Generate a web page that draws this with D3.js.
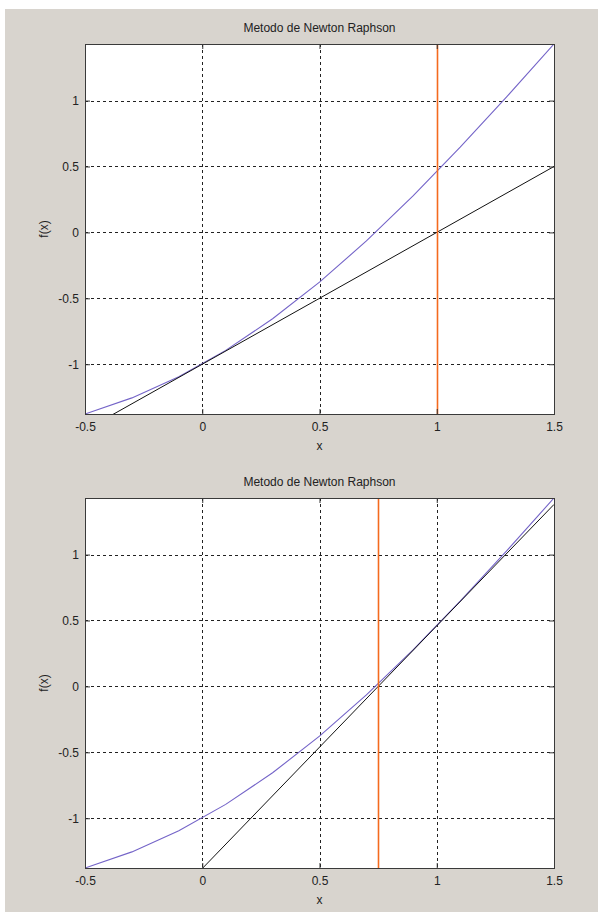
<!DOCTYPE html>
<html>
<head>
<meta charset="utf-8">
<script src="https://cdn.jsdelivr.net/npm/d3@7"></script>
<style>
  body { margin: 0; background: #fff; }
  text { font-family: "Liberation Sans", Arial, sans-serif; fill: #222; }
</style>
</head>
<body>
<script>
// datos
var titles = ["Metodo de Newton Raphson", "Metodo de Newton Raphson"];
var xTicks = [-0.5, 0, 0.5, 1, 1.5];
var xTickLabels = ["-0.5", "0", "0.5", "1", "1.5"];
var yTicks = [-1, -0.5, 0, 0.5, 1];
var yTickLabels = ["-1", "-0.5", "0", "0.5", "1"];

// f(x) muestreada
var curveX = [-0.5, -0.3, -0.1, 0.1, 0.3, 0.5, 0.7, 0.9, 1.1, 1.3, 1.5];
var curveY = [-1.3776, -1.2553, -1.0950, -0.8950, -0.6553, -0.3776, -0.0648, 0.2784, 0.6464, 1.0325, 1.4293];

// rectas tangentes (extremos en x = -0.5 y x = 1.5)
var tangentX = [-0.5, 1.5];
var tangentY = [[-1.5, 0.5], [-2.3025, 1.3804]];

// siguiente aproximacion (linea vertical)
var nextRoot = [1, 0.7504];

var W = 603, H = 913;
var left = 85, right = 554;
var panelTop = [44, 498];
var panelH = 370;

var svg = d3.select("body").append("svg")
    .attr("width", W)
    .attr("height", H);

// fondo gris de la figura
svg.append("rect")
    .attr("x", 5).attr("y", 9)
    .attr("width", 593).attr("height", 903)
    .attr("fill", "#d8d4ce");

var x = d3.scaleLinear().domain([-0.5, 1.5]).range([left, right]);

function drawPanel(p) {
    var top = panelTop[p];
    var bottom = top + panelH;
    var y = d3.scaleLinear().domain(d3.extent(curveY)).range([bottom, top]);

    var g = svg.append("g");

    g.append("rect")
        .attr("x", left).attr("y", top)
        .attr("width", right - left).attr("height", panelH)
        .attr("fill", "#fff");

    svg.append("clipPath").attr("id", "clip" + p)
        .append("rect")
        .attr("x", left).attr("y", top)
        .attr("width", right - left).attr("height", panelH);

    //rejilla punteada
    g.selectAll(".gx").data(xTicks.slice(1, -1)).enter().append("line")
        .attr("x1", function (d) { return Math.round(x(d)) + 0.5; })
        .attr("x2", function (d) { return Math.round(x(d)) + 0.5; })
        .attr("y1", top).attr("y2", bottom)
        .attr("stroke", "#222").attr("stroke-dasharray", "3,3");
    g.selectAll(".gy").data(yTicks).enter().append("line")
        .attr("y1", function (d) { return Math.round(y(d)) + 0.5; })
        .attr("y2", function (d) { return Math.round(y(d)) + 0.5; })
        .attr("x1", left).attr("x2", right)
        .attr("stroke", "#222").attr("stroke-dasharray", "3,3");

    var plot = g.append("g").attr("clip-path", "url(#clip" + p + ")");

    var line = d3.line()
        .x(function (d) { return x(d[0]); })
        .y(function (d) { return y(d[1]); });

    plot.append("path")
        .attr("d", line(d3.zip(curveX, curveY)))
        .attr("fill", "none").attr("stroke", "#7464c8").attr("stroke-width", 1.1);

    plot.append("path")
        .attr("d", line(d3.zip(tangentX, tangentY[p])))
        .attr("fill", "none").attr("stroke", "#111").attr("stroke-width", 1);

    var rx = Math.round(x(nextRoot[p])) + 0.5;
    plot.append("line")
        .attr("x1", rx).attr("x2", rx)
        .attr("y1", top).attr("y2", bottom)
        .attr("stroke", "#f46a1e").attr("stroke-width", 1.6);

    // ejes con marcas hacia dentro
    var xAxis = d3.axisBottom(x).tickValues(xTicks)
        .tickFormat(function (d, i) { return xTickLabels[i]; })
        .tickSizeInner(-5).tickSizeOuter(0).tickPadding(8);
    var yAxis = d3.axisLeft(y).tickValues(yTicks)
        .tickFormat(function (d, i) { return yTickLabels[i]; })
        .tickSizeInner(-5).tickSizeOuter(0).tickPadding(6);

    var ax = g.append("g").attr("transform", "translate(0," + bottom + ")").call(xAxis);
    var ay = g.append("g").attr("transform", "translate(" + left + ",0)").call(yAxis);
    var axTop = g.append("g").attr("transform", "translate(0," + top + ")")
        .call(d3.axisTop(x).tickValues(xTicks).tickFormat("").tickSizeInner(-5).tickSizeOuter(0));
    var ayRight = g.append("g").attr("transform", "translate(" + right + ",0)")
        .call(d3.axisRight(y).tickValues(yTicks).tickFormat("").tickSizeInner(-5).tickSizeOuter(0));

    [ax, ay, axTop, ayRight].forEach(function (a) {
        a.select(".domain").remove();
        a.selectAll("line").attr("stroke", "#333");
        a.selectAll("text").attr("font-size", 12).attr("fill", "#222")
            .attr("font-family", "'Liberation Sans', Arial, sans-serif");
    });

    g.append("rect")
        .attr("x", left + 0.5).attr("y", top + 0.5)
        .attr("width", right - left).attr("height", panelH)
        .attr("fill", "none").attr("stroke", "#3a3a3a");

    g.append("text")
        .attr("x", (left + right) / 2).attr("y", top - 12)
        .attr("text-anchor", "middle").attr("font-size", 12)
        .text(titles[p]);

    g.append("text")
        .attr("x", (left + right) / 2).attr("y", bottom + 36)
        .attr("text-anchor", "middle").attr("font-size", 12)
        .text("x");

    g.append("text")
        .attr("transform", "translate(48," + ((top + bottom) / 2) + ") rotate(-90)")
        .attr("text-anchor", "middle").attr("font-size", 12)
        .text("f(x)");
}

drawPanel(0);
drawPanel(1);
</script>
</body>
</html>
